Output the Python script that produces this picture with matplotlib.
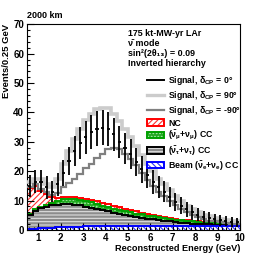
import numpy as np
import matplotlib
matplotlib.use("Agg")
import matplotlib.pyplot as plt
from matplotlib.lines import Line2D
from matplotlib.patches import Patch
from matplotlib.legend_handler import HandlerTuple
from matplotlib.ticker import MultipleLocator

plt.rcParams['font.family'] = ['Liberation Sans', 'DejaVu Sans']
plt.rcParams['font.weight'] = 'bold'
plt.rcParams['mathtext.fontset'] = 'custom'
plt.rcParams['mathtext.rm'] = 'Liberation Sans:bold'
plt.rcParams['mathtext.it'] = 'Liberation Sans:bold'
plt.rcParams['mathtext.bf'] = 'Liberation Sans:bold'
plt.rcParams['mathtext.default'] = 'rm'
plt.rcParams['hatch.linewidth'] = 0.8

# bin edges: 0.5 .. 10 GeV, width 0.25
edges = np.arange(0.5, 10.0001, 0.25)

# background components (events per bin)
beam_nue = [0.4, 0.5, 0.6, 0.7, 0.8, 0.9, 1.0, 1.0, 1.1, 1.1, 1.2, 1.2, 1.3, 1.3, 1.4, 1.4, 1.5, 1.5, 1.5,
            1.5, 1.5, 1.5, 1.5, 1.5, 1.5, 1.5, 1.5, 1.5, 1.4, 1.4, 1.4, 1.4, 1.4, 1.4, 1.4, 1.4, 1.4, 1.4]
nutau_cc = [4.7, 6.1, 6.8, 7.2, 7.6, 7.7, 7.8, 7.8, 7.5, 7.3, 6.7, 6.4, 5.9, 5.4, 4.9, 4.4, 3.8, 3.5, 3.2,
            2.9, 2.6, 2.3, 2.1, 1.8, 1.6, 1.4, 1.2, 1.0, 1.0, 0.8, 0.7, 0.6, 0.5, 0.4, 0.4, 0.3, 0.3, 0.2]
numu_cc = [0.4, 0.4, 0.5, 0.6, 0.9, 1.3, 1.6, 1.8, 1.9, 1.9, 1.9, 1.8, 1.7, 1.6, 1.5, 1.4, 1.4, 1.3, 1.3,
           1.2, 1.2, 1.1, 1.0, 1.0, 0.9, 0.9, 0.8, 0.8, 0.7, 0.7, 0.6, 0.5, 0.5, 0.5, 0.4, 0.4, 0.3, 0.3]
nc = [8.8, 8.0, 5.4, 3.8, 2.0, 1.1, 0.9, 0.7, 0.7, 0.7, 0.8, 0.8, 0.8, 0.9, 0.9, 1.0, 1.0, 0.9, 0.8,
      0.7, 0.6, 0.6, 0.5, 0.4, 0.4, 0.3, 0.3, 0.2, 0.2, 0.2, 0.2, 0.2, 0.2, 0.2, 0.1, 0.1, 0.1, 0.1]

# total (signal + background) for each delta_CP
total_dcp0 = [15.0, 16.5, 16.5, 14.5, 13.0, 15.5, 19.5, 23.5, 26.8, 29.5, 31.5, 33.5, 34.5, 34.8, 34.3,
              32.5, 30.0, 27.8, 26.0, 23.2, 20.6, 18.6, 16.4, 14.7, 13.0, 11.3, 9.6, 8.2, 7.0, 6.0, 5.2,
              4.5, 4.0, 3.6, 3.3, 3.0, 2.8, 2.6]
total_dcp90 = [16.5, 17.5, 17.5, 15.5, 14.5, 17.5, 22.5, 27.0, 31.0, 34.5, 37.5, 39.5, 41.0, 41.4, 41.4,
               39.5, 37.0, 34.5, 31.5, 28.5, 25.5, 22.5, 20.0, 17.5, 15.5, 13.5, 11.5, 9.8, 8.3, 7.0, 6.0,
               5.2, 4.6, 4.1, 3.7, 3.4, 3.1, 2.9]
total_dcpm90 = [14.8, 15.5, 14.0, 12.8, 12.0, 12.5, 14.5, 16.0, 17.5, 19.0, 21.0, 22.5, 24.5, 26.0, 27.5,
                28.0, 27.5, 26.0, 24.0, 22.0, 19.5, 17.0, 15.0, 13.0, 11.5, 10.0, 8.5, 7.2, 6.0, 5.0, 4.3,
                3.7, 3.2, 2.9, 2.6, 2.4, 2.2, 2.1]

xticks = [1, 2, 3, 4, 5, 6, 7, 8, 9, 10]
yticks = [0, 10, 20, 30, 40, 50, 60, 70]

fig = plt.figure(figsize=(2.66, 2.58), dpi=100)
ax = fig.add_axes([0.1015, 0.1085, 0.8005, 0.7975])

c0 = np.array(beam_nue)
c1 = c0 + np.array(nutau_cc)
c2 = c1 + np.array(numu_cc)
c3 = c2 + np.array(nc)
zero = np.zeros_like(c0)

RED_H, GRN_F, GRN_H, GRY_F, GRY_H, BLU_H = '#ff3030', '#22a822', '#a8e8a8', '#8c8c8c', '#e0e0e0', '#3030ff'

ax.stairs(c3, edges, baseline=c2, fill=True, facecolor='white', edgecolor=RED_H,
          hatch='//////', linewidth=0, zorder=1)
ax.stairs(c2, edges, baseline=c1, fill=True, facecolor=GRN_F, edgecolor=GRN_H,
          hatch='.....', linewidth=0, zorder=1)
ax.stairs(c1, edges, baseline=c0, fill=True, facecolor=GRY_F, edgecolor=GRY_H,
          hatch='-----', linewidth=0, zorder=1)
ax.stairs(c0, edges, baseline=zero, fill=True, facecolor='white', edgecolor=BLU_H,
          hatch='\\\\\\\\\\\\', linewidth=0, zorder=1)

ax.stairs(c3, edges, baseline=None, color='#ff0000', linewidth=1.4, zorder=2)
ax.stairs(c2, edges, baseline=None, color='#00a000', linewidth=1.4, zorder=2)
ax.stairs(c1, edges, baseline=None, color='black', linewidth=1.4, zorder=2)
ax.stairs(c0, edges, baseline=None, color='#0000ff', linewidth=1.4, zorder=2)

ax.stairs(total_dcp90, edges, baseline=None, color='#cccccc', linewidth=2.6, zorder=3)
ax.stairs(total_dcpm90, edges, baseline=None, color='#808080', linewidth=1.6, zorder=3)
centers = 0.5 * (edges[:-1] + edges[1:])
t0 = np.array(total_dcp0)
ax.errorbar(centers, t0, yerr=np.sqrt(t0), xerr=0.07, fmt='none', ecolor='black',
            elinewidth=1.3, capsize=0, zorder=4)

ax.set_xlim(0.5, 10)
ax.set_ylim(0, 70)
ax.set_xticks(xticks)
ax.set_yticks(yticks)
ax.xaxis.set_minor_locator(MultipleLocator(0.2))
ax.yaxis.set_minor_locator(MultipleLocator(2))
ax.tick_params(which='both', direction='in', labelsize=7, pad=2, width=0.8)
ax.tick_params(which='major', length=5)
ax.tick_params(which='minor', length=2.5)
for s in ax.spines.values():
    s.set_linewidth(0.8)

ax.set_xlabel('Reconstructed Energy (GeV)', fontsize=6.6, fontweight='bold', loc='right', labelpad=1)
ax.set_ylabel('Events/0.25 GeV', fontsize=6.8, fontweight='bold', loc='top', labelpad=2)

fig.text(0.1015, 0.94, '2000 km', fontsize=6.5, fontweight='bold', ha='left', va='center')

txt_lines = ['175 kt-MW-yr LAr', '\u03bd\u0304 mode', 'sin\u00b2(2\u03b8\u2081\u2083) = 0.09',
             'Inverted hierarchy']
ys = [0.958, 0.911, 0.861, 0.813]
for t, yy in zip(txt_lines, ys):
    ax.text(0.474, yy, t, transform=ax.transAxes, fontsize=6.4, fontweight='bold',
            ha='left', va='center_baseline')

handles = [
    Line2D([], [], color='black', lw=1.4),
    Line2D([], [], color='#cccccc', lw=2.4),
    Line2D([], [], color='#808080', lw=1.6),
    (Patch(facecolor='white', edgecolor=RED_H, hatch='//////', lw=0),
     Patch(facecolor='none', edgecolor='#ff0000', lw=1.4)),
    (Patch(facecolor=GRN_F, edgecolor=GRN_H, hatch='.....', lw=0),
     Patch(facecolor='none', edgecolor='#00a000', lw=1.4)),
    (Patch(facecolor=GRY_F, edgecolor=GRY_H, hatch='-----', lw=0),
     Patch(facecolor='none', edgecolor='black', lw=1.4)),
    (Patch(facecolor='white', edgecolor=BLU_H, hatch='\\\\\\\\\\\\', lw=0),
     Patch(facecolor='none', edgecolor='#0000ff', lw=1.4)),
]
labels = [r'Signal, $\delta_{CP}$ = 0°', r'Signal, $\delta_{CP}$ = 90°', r'Signal, $\delta_{CP}$ = -90°',
          'NC', r'($\bar{\nu}_{\mu}$+$\nu_{\mu}$) CC', r'($\bar{\nu}_{\tau}$+$\nu_{\tau}$) CC',
          r'Beam ($\bar{\nu}_{e}$+$\nu_{e}$) CC']
leg = ax.legend(handles, labels, loc='upper left', bbox_to_anchor=(0.555, 0.765),
                frameon=False, fontsize=6.3, handlelength=2.0, handleheight=0.8,
                handletextpad=0.4, labelspacing=0.2, borderpad=0.2, borderaxespad=0,
                handler_map={tuple: HandlerTuple(ndivide=1, pad=0)})
for t in leg.get_texts():
    t.set_fontweight('bold')

fig.savefig('out.png', dpi=100)
